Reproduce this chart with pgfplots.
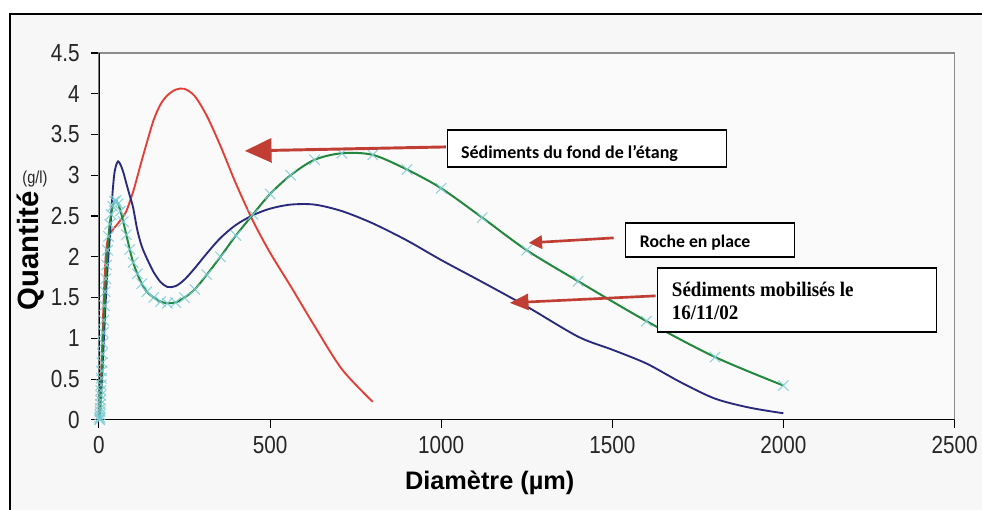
\documentclass[border=0pt]{standalone}
\usepackage{fontspec}
\setmainfont{Liberation Sans}
\newfontfamily\tickfont[FakeStretch=0.84]{Liberation Sans}
\newfontfamily\calibri{Carlito}
\newfontfamily\timesf[FakeStretch=0.92]{Liberation Serif}
\usepackage{pgfplots}
\pgfplotsset{compat=1.18}
\usetikzlibrary{arrows.meta}

\definecolor{cred}{RGB}{226,62,52}
\definecolor{cblue}{RGB}{42,42,125}
\definecolor{cgreen}{RGB}{36,135,62}
\definecolor{cmark}{RGB}{125,205,215}
\definecolor{carrow}{RGB}{192,62,52}

\begin{document}
\begin{tikzpicture}
\begin{scope}[x=0.75pt,y=-0.75pt]
  \path[use as bounding box] (0,0) rectangle (982,510);
  \fill[black!3] (10,14) rectangle (982,510);
  \draw[black, line width=1.6pt] (10,515) -- (10,14) -- (985,14);
\end{scope}

\begin{axis}[
  at={(74.25pt,-315pt)}, anchor=south west,
  scale only axis, width=642pt, height=275.25pt,
  xmin=0, xmax=2500, ymin=0, ymax=4.5,
  xtick={0,500,...,2500}, ytick={0,0.5,...,4.5},
  xtick pos=bottom, ytick pos=left,
  tick align=outside, major tick length=6pt,
  tick style={black, line width=0.8pt},
  axis line style={draw=black!45, line width=1pt},
  scaled ticks=false,
  /pgf/number format/1000 sep={},
  /pgf/number format/assume math mode=true,
  ticklabel style={font=\tickfont\fontsize{18.5}{18.5}\selectfont, text=black!85},
  yticklabel style={xshift=-5pt},
  xticklabel style={yshift=-3pt},
  axis background/.style={fill=black!2},
]
\draw[black, line width=1.2pt] (rel axis cs:0,1) -- (rel axis cs:0,0) -- (rel axis cs:1,0);

% Sediments du fond de l'etang
\addplot[cred, line width=1.4pt, smooth, no markers] coordinates {
(2,0) (3.15,0.12) (4,0.25) (5,0.38) (6.3,0.55) (8,0.75) (10,1.0) (12.5,1.32)
(16,1.7) (20,2.02) (25,2.2) (31.5,2.28) (40,2.33) (50,2.38) (63,2.45) (80,2.56)
(100,2.8) (112,2.98) (125,3.18) (140,3.4) (160,3.68) (180,3.87) (200,3.98)
(224,4.05) (250,4.06) (280,3.97) (315,3.73) (355,3.36) (400,2.9) (450,2.44)
(500,2.05) (560,1.64) (630,1.15) (710,0.62) (800,0.22)};

% Sediments mobilises le 16/11/02
\addplot[cblue, line width=1.4pt, smooth, no markers] coordinates {
(2,0) (2.5,0.02) (3.15,0.06) (4,0.12) (5,0.2) (6.3,0.3) (8,0.42) (10,0.58)
(12.5,0.8) (16,1.12) (20,1.48) (25,1.85) (31.5,2.22) (35.5,2.5) (40,2.8)
(45,3.02) (50,3.12) (56,3.17) (63,3.13) (71,3.04) (80,2.9) (90,2.75) (100,2.6)
(112,2.33) (125,2.13) (140,1.98) (160,1.81) (180,1.69) (200,1.63) (224,1.64)
(250,1.72) (280,1.86) (315,2.04) (355,2.23) (400,2.39) (450,2.51) (500,2.59)
(560,2.64) (630,2.64) (710,2.56) (800,2.41) (900,2.2) (1000,1.96) (1120,1.69)
(1250,1.39) (1400,1.02) (1500,0.86) (1600,0.69) (1700,0.46) (1800,0.26)
(1900,0.15) (2000,0.08)};

% Roche en place
\addplot[cgreen, line width=1.5pt, smooth, mark=x, mark size=5.5pt,
  mark options={solid, draw=cmark, line width=0.8pt, draw opacity=0.85}] coordinates {
(2,0) (2.24,0.01) (2.5,0.03) (2.8,0.06) (3.15,0.1) (3.55,0.14) (4,0.19)
(4.5,0.24) (5,0.3) (5.6,0.36) (6.3,0.43) (7.1,0.51) (8,0.6) (9,0.7) (10,0.81)
(11.2,0.94) (12.5,1.07) (14,1.22) (16,1.4) (18,1.57) (20,1.73) (22.4,1.9)
(25,2.08) (28,2.25) (31.5,2.4) (35.5,2.52) (40,2.62) (45,2.68) (50,2.69)
(56,2.65) (63,2.56) (71,2.43) (80,2.27) (90,2.09) (100,1.93) (112,1.79)
(125,1.67) (140,1.57) (160,1.5) (180,1.45) (200,1.43) (224,1.44) (250,1.5)
(280,1.6) (315,1.78) (355,2.0) (400,2.26) (450,2.52) (500,2.77) (560,3.0)
(630,3.19) (710,3.27) (800,3.25) (900,3.07) (1000,2.84) (1120,2.48)
(1250,2.08) (1400,1.7) (1600,1.21) (1800,0.77) (2000,0.42)};
\end{axis}

\begin{scope}[x=0.75pt,y=-0.75pt]
  % axis titles
  \node[rotate=90, anchor=center, font=\bfseries\fontsize{22}{22}\selectfont]
    at (31,251) {Quantité};
  \node[anchor=center, font=\tickfont\fontsize{13}{13}\selectfont, text=black!85]
    at (35,179) {(g/l)};
  \node[anchor=base, font=\bfseries\fontsize{19}{19}\selectfont]
    at (490,490) {Diamètre (µm)};

  % annotation boxes
  \draw[black, line width=1pt, fill=white] (448,130) rectangle (727,167);
  \node[anchor=base west, inner sep=0pt, font=\calibri\bfseries\fontsize{13.5}{13.5}\selectfont]
    at (461,159) {Sédiments du fond de l’étang};
  \draw[black, line width=1pt, fill=white] (626,223) rectangle (795,257);
  \node[anchor=base west, inner sep=0pt, font=\calibri\bfseries\fontsize{13.3}{13.3}\selectfont]
    at (640,248) {Roche en place};
  \draw[black, line width=1pt, fill=white] (658,268) rectangle (937,332);
  \node[anchor=base west, inner sep=0pt, font=\timesf\bfseries\fontsize{15.5}{15.5}\selectfont]
    at (672,297) {Sédiments mobilisés le};
  \node[anchor=base west, inner sep=0pt, font=\timesf\bfseries\fontsize{15.5}{15.5}\selectfont]
    at (672,320) {16/11/02};

  % arrows
  \draw[carrow, line width=2.2pt, -{Triangle[length=20pt, width=18pt]}]
    (446,147) -- (245,151);
  \draw[carrow, line width=2pt, -{Triangle[length=10pt, width=10pt]}]
    (614,238) -- (529,243);
  \draw[carrow, line width=2pt, -{Triangle[length=14pt, width=12pt]}]
    (656,296) -- (510,303);
\end{scope}
\end{tikzpicture}
\end{document}
